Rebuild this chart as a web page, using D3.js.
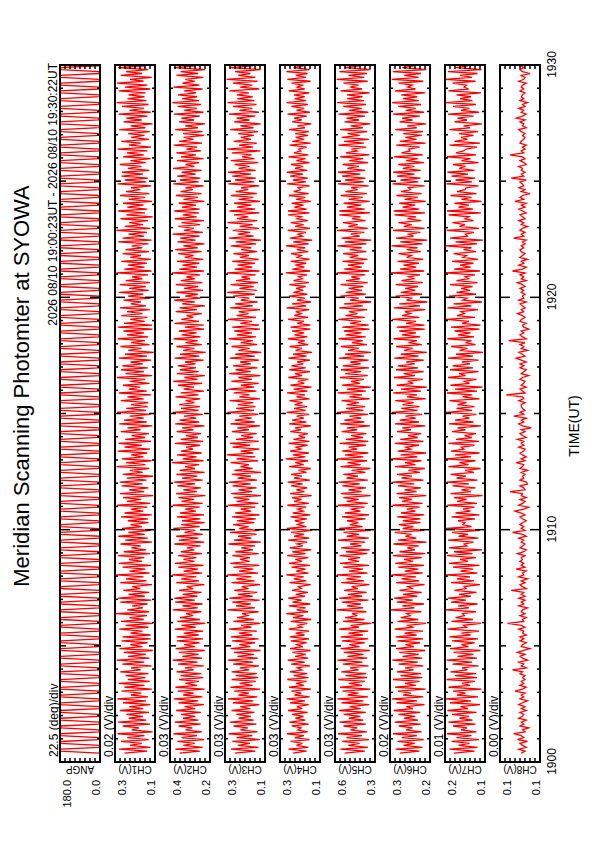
<!DOCTYPE html>
<html>
<head>
<meta charset="utf-8">
<script src="https://cdn.jsdelivr.net/npm/d3@7"></script>
<style>
    body { margin: 0; background: #fff; }
    svg { display: block; font-family: "Liberation Sans", Arial, Helvetica, sans-serif; }
</style>
</head>
<body>
<svg id="main-svg" width="595" height="842"></svg>
<script>
const title = "Meridian Scanning Photomter at SYOWA";
const period = "2026 08/10 19:00:23UT - 2026 08/10 19:30:22UT";
const channels = ["ANGP", "CH1(V)", "CH2(V)", "CH3(V)", "CH4(V)", "CH5(V)", "CH6(V)", "CH7(V)", "CH8(V)"];
const topLabels = ["180.0", "0.3", "0.4", "0.3", "0.3", "0.6", "0.3", "0.2", "0.1"];
const bottomLabels = ["0.0", "0.1", "0.2", "0.1", "0.1", "0.3", "0.2", "0.1", "0.1"];
const divLabels = ["22.5 (deg)/div", "0.02 (V)/div", "0.03 (V)/div", "0.03 (V)/div", "0.03 (V)/div",
    "0.03 (V)/div", "0.02 (V)/div", "0.01 (V)/div", "0.00 (V)/div"];
// value range of each panel (deg for ANGP, mV for the channels) and one division
const lows = [0, 140, 170, 100, 100, 340, 170, 110, 92];
const highs = [180, 300, 410, 340, 340, 580, 330, 190, 124];
const divs = [22.5, 20, 30, 30, 30, 30, 20, 10, 4];
const timeLabel = "TIME(UT)";

// one sample every 5 s from 19:00:23
const startTime = Date.UTC(2026, 7, 10, 19, 0, 23);
const stepSeconds = 5;

const angp = [
    4,177,178,3,2,179,176,5,3,178,180,2,6,176,177,4,3,179,178,2,
    5,176,179,3,4,178,177,2,6,180,175,4,2,177,179,5,3,176,178,6,
    2,179,177,4,5,175,178,3,4,180,176,2,3,178,179,5,6,177,175,3,
    3,178,180,2,4,176,177,6,2,179,178,4,5,175,180,3,2,178,176,4,
    6,177,179,3,2,180,175,5,4,178,177,2,3,176,179,6,5,178,177,2,
    4,179,176,5,3,177,180,2,6,175,178,4,2,179,177,3,4,180,175,5,
    3,176,178,4,5,179,177,2,3,180,176,6,4,177,178,3,2,175,179,4,
    5,178,177,3,2,176,179,6,4,178,180,3,5,177,176,2,3,179,178,5,
    2,180,175,4,6,178,177,3,4,176,179,2,3,178,177,5,6,175,180,3,
    4,177,178,2,3,179,176,5,2,180,177,4,5,176,178,3,4,179,175,6,
    3,178,179,5,4,175,180,2,6,177,178,3,2,179,176,4,5,178,177,2,
    5,176,177,3,2,180,178,4,3,175,179,6,4,178,177,2,3,180,176,5,
    6,179,175,4,3,177,178,2,5,179,176,3,2,180,177,4,6,176,179,3,
    2,177,180,5,4,178,175,3,3,177,179,2,5,176,178,6,4,179,177,2,
    3,180,176,4,2,179,177,5,6,175,178,3,4,178,180,2,3,177,176,5,
    5,178,177,2,6,176,179,4,2,180,175,3,3,179,178,5,4,176,177,2,
    4,175,179,3,3,178,180,6,5,177,176,2,2,178,179,4,6,180,175,3,
    2,179,178,5,4,177,176,3,3,180,178,2,5,175,179,4,2,177,178,6];
const ch1 = [
    262,171,284,158,240,193,276,165,251,182,290,150,233,204,269,160,287,175,245,188,
    255,164,280,187,243,159,268,176,291,168,236,195,274,153,262,182,285,161,249,178,
    258,166,279,197,236,154,271,183,293,162,248,176,265,149,282,190,239,170,274,157,
    270,158,238,190,283,167,257,149,276,185,242,172,296,163,251,188,231,170,279,155,
    288,181,246,163,267,199,231,152,279,174,256,186,295,161,242,178,270,155,284,192,
    244,183,288,160,265,176,234,197,278,152,259,169,287,181,247,157,272,192,238,166,
    249,168,276,153,262,187,237,171,291,159,253,195,268,147,280,183,244,166,273,190,
    281,174,253,148,269,189,240,163,294,178,256,154,273,186,235,171,289,160,262,193,
    286,156,259,179,234,164,277,198,250,151,283,173,264,185,241,158,292,176,255,169,
    236,167,277,185,250,156,284,173,245,199,268,162,241,179,292,151,258,184,276,169,
    271,189,238,155,285,172,260,145,247,194,278,162,236,180,289,167,252,184,266,150,
    289,152,264,181,239,170,275,190,252,161,280,176,237,196,266,158,248,187,283,165,
    243,177,281,160,257,191,232,168,294,154,263,182,248,173,275,157,239,196,270,164,
    258,191,233,166,287,154,270,183,246,172,295,159,261,188,243,168,278,149,255,180,
    287,171,251,186,268,152,245,179,280,163,256,199,236,155,290,175,261,168,274,188,
    272,163,249,194,281,177,238,158,267,185,253,170,290,156,244,197,275,164,236,182,
    247,161,283,178,238,150,266,193,255,170,286,157,242,184,272,166,293,174,250,182,
    246,178,285,159,260,171,292,186,240,153,277,192,256,167,288,175,234,161,269,189];
const ch2 = [
    352,231,378,214,330,262,365,205,341,248,389,219,316,276,358,226,382,240,333,258,
    344,225,373,259,322,207,359,241,387,216,331,268,364,203,377,247,318,236,356,210,
    347,222,371,268,321,208,362,245,394,218,336,239,357,201,376,260,325,233,368,212,
    370,238,327,211,382,256,341,199,366,230,350,271,314,222,393,244,336,215,379,261,
    385,246,334,221,356,271,310,204,372,236,343,252,397,217,328,242,361,209,380,263,
    329,252,361,218,345,265,309,227,384,205,357,240,373,213,323,258,390,232,342,202,
    338,228,369,206,350,255,318,232,392,214,341,266,360,198,374,249,330,224,366,259,
    387,214,338,246,372,202,352,260,320,235,399,209,334,251,367,220,345,272,313,229,
    381,211,346,243,315,223,370,270,337,203,379,235,353,252,327,213,395,239,344,230,
    355,263,316,228,377,240,346,206,328,266,362,217,391,245,324,201,369,238,351,254,
    363,257,320,209,383,234,349,196,331,264,371,219,317,244,388,227,340,250,356,205,
    321,208,383,236,342,270,311,219,376,248,353,200,337,261,386,226,319,243,372,212,
    326,241,376,216,345,262,312,229,398,207,355,248,335,234,368,211,322,269,361,220,
    379,244,330,203,365,257,349,232,395,213,326,267,360,229,341,206,381,250,333,237,
    384,232,339,254,358,204,329,243,375,221,347,273,316,208,390,238,351,228,367,256,
    340,220,392,264,317,235,368,209,343,255,372,224,312,247,388,218,355,269,328,204,
    332,215,379,242,319,200,356,265,342,231,386,210,325,249,364,224,396,236,337,247,
    362,253,325,215,389,233,336,262,318,210,371,241,347,199,385,256,330,226,374,243];
const ch3 = [
    281,158,304,139,262,190,296,131,270,176,318,145,247,203,289,152,311,168,258,185,
    272,163,301,188,249,134,293,170,322,146,259,197,285,129,307,174,252,155,300,141,
    276,149,300,195,251,136,292,172,323,143,265,166,287,127,306,188,254,160,297,138,
    305,176,257,149,316,182,244,128,290,167,268,203,237,139,326,160,274,186,296,132,
    314,174,263,147,285,199,240,130,301,163,272,181,327,142,256,170,290,134,309,192,
    250,190,296,138,278,172,242,160,319,125,287,181,262,150,311,135,255,198,291,164,
    267,155,298,132,279,183,246,159,321,140,270,194,288,124,303,177,259,151,295,186,
    318,147,265,184,299,123,284,175,247,196,306,142,271,158,329,170,246,133,295,189,
    310,137,275,171,243,150,299,197,266,129,308,162,282,180,255,140,325,166,273,157,
    263,170,312,131,254,193,288,151,320,166,245,138,302,179,260,127,315,186,276,145,
    292,185,249,135,312,161,278,122,260,192,301,146,245,172,317,154,269,178,284,131,
    297,136,248,177,323,154,270,199,258,130,309,173,281,144,246,194,291,162,327,150,
    254,168,306,142,274,189,241,156,328,133,283,176,264,161,297,138,251,196,290,147,
    244,182,305,153,276,124,317,168,263,189,294,137,252,174,324,147,268,201,286,133,
    313,159,268,181,286,130,258,170,304,148,276,200,244,135,320,165,280,155,296,183,
    321,156,259,192,282,140,305,163,238,180,298,128,327,171,256,149,288,184,245,167,
    261,141,309,169,248,126,285,193,271,158,316,137,253,176,293,151,324,163,266,174,
    268,197,314,135,249,176,293,145,330,158,261,188,280,126,312,173,243,153,304,179];
const ch4 = [
    262,181,289,170,241,205,276,163,252,196,298,174,233,214,270,168,284,188,247,199,
    268,174,292,206,239,168,279,190,300,162,253,212,271,155,285,197,244,181,296,170,
    258,177,281,209,236,160,273,192,294,171,249,185,266,157,280,203,239,180,275,166,
    281,193,246,165,288,208,231,176,276,153,262,199,303,172,240,186,287,159,265,210,
    291,190,245,172,268,212,230,156,283,183,257,198,302,169,243,187,271,161,286,207,
    248,170,297,187,266,152,282,203,238,177,291,164,255,195,274,149,299,183,235,202,
    251,179,277,158,264,201,234,184,296,167,255,211,269,150,279,193,242,176,273,204,
    294,161,257,209,273,181,229,156,285,198,248,171,306,188,263,167,280,214,243,175,
    288,164,260,189,229,173,278,215,250,154,285,182,267,197,240,165,300,186,256,178,
    252,205,283,163,241,190,298,175,258,151,277,194,233,169,290,207,251,160,284,186,
    272,200,238,160,290,181,261,148,246,208,282,171,232,191,293,176,253,195,268,158,
    277,158,236,196,292,172,255,213,245,165,301,182,268,154,239,191,286,176,260,200,
    244,186,284,166,259,206,228,178,305,159,266,194,248,183,276,163,237,213,274,170,
    239,189,304,168,261,147,280,205,232,184,294,160,249,198,275,173,237,211,291,163,
    292,180,254,199,270,155,243,188,287,168,258,217,231,162,297,185,263,174,279,202,
    299,177,250,201,274,162,242,187,289,169,256,215,228,180,283,156,266,194,246,171,
    249,167,286,190,235,152,267,209,256,179,295,161,241,195,272,173,301,184,252,192,
    256,164,288,192,237,206,271,157,296,185,245,174,302,163,259,199,278,150,240,188];
const ch5 = [
    522,401,548,383,500,432,537,376,511,418,561,389,487,446,529,395,553,410,497,428,
    528,395,555,427,492,374,541,409,566,382,504,440,535,368,549,418,496,400,560,387,
    517,392,542,439,490,379,533,415,565,386,506,408,528,371,546,433,494,402,539,381,
    546,413,499,381,557,437,486,362,533,403,520,446,478,392,571,411,508,425,539,379,
    556,417,503,390,526,443,481,373,543,406,512,424,569,385,496,412,531,377,550,436,
    501,429,552,386,515,371,543,421,489,399,563,377,510,435,529,366,555,415,491,440,
    508,397,538,375,520,427,485,403,563,383,510,438,530,366,545,420,499,394,536,431,
    559,383,512,442,530,397,480,369,547,426,505,388,568,410,520,380,537,447,498,393,
    552,380,515,411,484,391,540,447,509,370,549,404,524,422,493,381,567,409,513,399,
    510,437,540,372,493,418,564,395,509,365,536,430,484,406,551,384,519,423,544,376,
    534,426,488,378,557,405,519,364,501,437,544,388,479,413,558,396,516,421,527,373,
    537,378,489,424,560,401,517,445,497,387,555,413,527,363,490,437,548,396,516,419,
    498,410,547,384,514,432,482,398,570,375,525,419,503,407,535,385,492,441,532,392,
    491,420,565,391,522,362,541,431,485,404,567,383,500,444,532,397,479,427,553,370,
    554,402,509,423,528,372,497,414,546,389,518,444,483,378,562,408,521,397,539,428,
    561,399,506,436,534,381,494,411,548,374,515,448,481,393,559,407,526,377,540,432,
    505,386,550,413,486,368,523,435,511,400,559,380,495,420,531,394,566,406,507,416,
    508,372,547,418,488,439,529,384,570,405,498,389,554,367,521,428,536,402,484,415];
const ch6 = [
    291,212,308,200,276,231,299,195,283,222,318,204,266,240,295,207,311,218,273,229,
    296,209,315,238,265,192,304,221,322,197,277,246,298,188,309,227,270,212,318,201,
    288,205,303,236,270,197,296,219,321,201,280,215,293,190,306,234,268,210,300,198,
    307,224,272,198,312,240,258,186,300,217,287,249,263,205,327,232,281,194,303,239,
    314,221,278,203,292,242,259,192,305,213,284,226,324,199,271,217,297,194,309,238,
    274,203,319,189,292,230,261,215,316,184,298,225,268,244,311,193,279,236,295,208,
    279,208,301,193,286,228,262,211,319,200,282,243,294,185,304,224,272,206,298,233,
    320,196,284,242,302,210,257,191,310,228,270,204,325,220,288,186,299,247,266,214,
    311,196,289,219,258,205,302,246,281,189,310,214,291,227,268,202,323,220,285,212,
    280,235,309,187,262,222,317,206,286,183,303,237,259,199,314,230,276,195,306,218,
    299,231,265,195,313,216,287,183,274,239,306,203,256,222,316,209,283,226,293,191,
    303,192,266,226,321,213,282,248,271,189,315,210,293,181,264,241,308,202,287,229,
    269,218,307,199,284,235,255,210,326,193,290,225,276,214,300,197,263,244,296,207,
    263,220,324,200,289,181,306,236,256,209,318,192,275,243,296,205,260,226,312,190,
    315,213,280,229,293,187,271,219,304,204,286,248,257,192,320,217,288,208,302,232,
    317,207,279,233,297,194,265,219,313,199,284,250,255,211,305,188,291,224,269,203,
    277,198,309,223,261,186,292,240,282,211,317,194,267,227,297,206,322,215,278,221,
    285,189,311,228,259,241,296,197,323,216,273,206,319,185,281,234,300,183,262,222];
const ch7 = [
    172,131,181,125,163,141,177,122,167,137,186,127,158,146,174,129,183,135,161,142,
    176,127,185,144,159,120,180,138,189,124,166,149,174,117,183,140,156,130,187,126,
    170,128,179,145,156,123,175,136,187,126,165,133,173,119,180,143,157,131,176,124,
    181,139,157,122,185,147,153,118,177,134,169,151,155,128,190,142,164,125,178,148,
    184,138,162,127,171,148,152,120,178,132,166,140,188,125,159,134,174,121,182,144,
    160,128,186,135,172,116,182,146,152,133,184,123,163,144,176,120,188,137,154,150,
    164,130,177,121,169,139,154,131,185,126,166,147,172,115,179,138,157,129,175,142,
    187,125,167,148,179,132,150,119,183,143,161,129,189,138,170,121,178,152,157,131,
    183,122,168,136,151,128,176,149,165,118,182,133,170,141,155,127,189,136,167,131,
    165,147,181,121,155,136,186,126,170,115,179,141,151,127,184,149,162,123,180,134,
    175,140,156,123,184,134,168,114,161,145,178,129,149,137,185,132,164,139,171,121,
    178,119,156,142,188,130,166,151,158,124,185,137,173,116,154,146,182,128,167,140,
    158,135,180,125,167,143,150,130,190,120,172,139,160,133,176,124,154,147,173,128,
    153,137,189,126,169,114,180,145,149,132,187,122,161,150,175,133,150,142,183,118,
    186,134,163,142,171,117,157,137,179,127,166,150,148,123,187,136,169,130,177,144,
    185,131,162,149,174,123,157,139,186,128,168,153,147,126,181,120,171,145,158,133,
    162,124,181,140,153,116,171,146,165,133,184,122,158,141,174,128,189,135,160,138,
    167,118,183,143,152,147,175,129,190,136,160,125,184,117,168,144,179,121,155,139];
const ch8 = [
    107,104,109,103,106,108,102,110,105,107,113,104,106,101,108,105,107,103,109,106,
    105,108,103,107,104,109,106,102,108,105,107,104,112,106,103,108,105,107,104,106,
    104,108,106,114,103,107,105,109,102,106,108,104,110,105,100,107,106,103,108,105,
    108,103,106,105,109,104,107,118,105,106,103,108,104,107,106,102,109,105,107,104,
    109,104,107,105,115,103,106,108,104,107,102,109,105,106,103,111,104,107,105,108,
    106,107,104,110,105,103,108,106,104,107,105,109,103,106,114,104,107,105,108,106,
    103,106,108,104,107,112,105,101,109,106,104,108,103,107,106,116,104,105,108,102,
    103,108,105,106,104,107,102,108,106,105,111,104,107,103,106,108,105,104,109,105,
    107,105,110,103,106,108,104,107,99,106,109,105,107,103,113,105,108,104,106,107,
    107,104,109,105,106,119,104,106,108,103,107,105,104,108,106,101,107,105,103,108,
    105,108,103,107,111,104,106,109,102,107,105,108,104,117,103,106,108,105,107,101,
    105,106,103,108,107,104,106,110,105,107,104,106,108,103,109,105,106,104,107,105,
    108,104,106,110,103,107,105,108,104,114,106,103,109,105,107,102,108,106,104,107,
    108,105,107,104,106,103,113,105,107,104,108,106,102,107,105,109,104,106,108,103,
    106,109,104,107,103,112,105,108,106,100,107,104,109,105,106,108,103,115,105,107,
    104,107,106,109,103,105,108,104,106,116,105,107,104,106,103,108,107,105,104,106,
    104,107,109,103,106,105,108,104,111,106,103,107,105,109,104,106,102,108,105,107,
    106,104,108,105,107,106,103,109,105,104,107,100,106,108,105,107,104,106,109,105];
const series = [angp, ch1, ch2, ch3, ch4, ch5, ch6, ch7, ch8];

const svg = d3.select("#main-svg");
// the plot is laid out landscape (842 x 595) and turned a quarter turn onto the page
const plot = svg.append("g").attr("transform", "translate(0,842) rotate(-90)");

const panelTop0 = 60, panelStep = 55, panelH = 40;
const escalaTiempo = d3.scaleUtc()
    .domain([new Date(Date.UTC(2026, 7, 10, 19, 0)), new Date(Date.UTC(2026, 7, 10, 19, 30))])
    .range([80, 777]);
const [x0, x1] = escalaTiempo.range();
const minuteTicks = escalaTiempo.ticks(d3.utcMinute.every(1));

plot.append("text")
    .attr("x", 456).attr("y", 29)
    .attr("text-anchor", "middle")
    .attr("font-size", 22)
    .text(title);

plot.append("text")
    .attr("x", 779).attr("y", 57)
    .attr("text-anchor", "end")
    .attr("font-size", 12)
    .text(period);

series.forEach((datos, i) => {
    const top = panelTop0 + i * panelStep;
    const escalaY = d3.scaleLinear()
        .domain([lows[i], highs[i]])
        .range([top + panelH, top]);
    const panel = plot.append("g");

    panel.append("clipPath")
        .attr("id", "clip" + i)
        .append("rect")
        .attr("x", x0).attr("y", top)
        .attr("width", x1 - x0).attr("height", panelH);

    const line = d3.line()
        .x((d, j) => escalaTiempo(new Date(startTime + j * stepSeconds * 1000)))
        .y(d => escalaY(d));
    panel.append("path")
        .datum(datos)
        .attr("clip-path", `url(#clip${i})`)
        .attr("fill", "none")
        .attr("stroke", "#ff0000")
        .attr("stroke-width", 1.3)
        .attr("d", line);

    // time ticks on both long edges, 1 / 5 / 10 minutes
    minuteTicks.forEach(t => {
        const m = t.getUTCMinutes();
        const len = m % 10 === 0 ? 10 : (m % 5 === 0 ? 6 : 3);
        const xx = escalaTiempo(t);
        panel.append("line")
            .attr("x1", xx).attr("x2", xx)
            .attr("y1", top).attr("y2", top + len)
            .attr("stroke", "#000").attr("stroke-width", 1.5);
        panel.append("line")
            .attr("x1", xx).attr("x2", xx)
            .attr("y1", top + panelH).attr("y2", top + panelH - len)
            .attr("stroke", "#000").attr("stroke-width", 1.5);
    });

    // value ticks, one per division, on both short edges
    d3.range(lows[i], highs[i] + divs[i] / 2, divs[i]).forEach(v => {
        const yy = escalaY(v);
        panel.append("line")
            .attr("x1", x0).attr("x2", x0 + 4)
            .attr("y1", yy).attr("y2", yy)
            .attr("stroke", "#000").attr("stroke-width", 1.5);
        panel.append("line")
            .attr("x1", x1).attr("x2", x1 - 4)
            .attr("y1", yy).attr("y2", yy)
            .attr("stroke", "#000").attr("stroke-width", 1.5);
    });

    panel.append("rect")
        .attr("x", x0).attr("y", top)
        .attr("width", x1 - x0).attr("height", panelH)
        .attr("fill", "none")
        .attr("stroke", "#000")
        .attr("stroke-width", 2);

    panel.append("text")
        .attr("x", 85).attr("y", top - 2)
        .attr("font-size", 12)
        .text(divLabels[i]);
    panel.append("text")
        .attr("x", 62).attr("y", top + 11)
        .attr("text-anchor", "end")
        .attr("font-size", 11)
        .text(topLabels[i]);
    panel.append("text")
        .attr("x", 62).attr("y", top + panelH)
        .attr("text-anchor", "end")
        .attr("font-size", 11)
        .text(bottomLabels[i]);
    panel.append("text")
        .attr("transform", `translate(76,${top + panelH / 2}) rotate(-90)`)
        .attr("text-anchor", "middle")
        .attr("font-size", 10)
        .text(channels[i]);
});

// time axis under the last panel
const lastBottom = panelTop0 + (series.length - 1) * panelStep + panelH;
const axisTiempo = d3.axisBottom(escalaTiempo)
    .ticks(d3.utcMinute.every(10))
    .tickFormat(d3.utcFormat("%H%M"))
    .tickSize(0)
    .tickPadding(7);
plot.append("g")
    .attr("transform", `translate(0,${lastBottom})`)
    .call(axisTiempo)
    .call(g => g.select(".domain").remove())
    .call(g => g.selectAll("text").attr("font-size", 12).attr("font-family", null).attr("fill", "#000"));

plot.append("text")
    .attr("x", 416).attr("y", 579)
    .attr("text-anchor", "middle")
    .attr("font-size", 14)
    .text(timeLabel);
</script>
</body>
</html>
